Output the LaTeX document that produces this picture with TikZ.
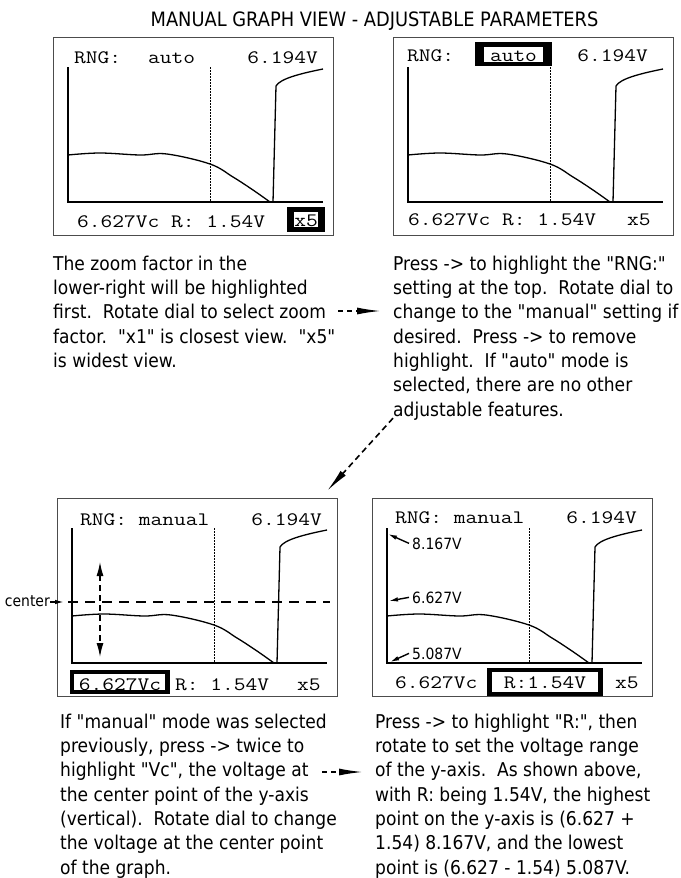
\documentclass[tikz,border=0pt]{standalone}
\usepackage{fontspec}
\setmainfont{DejaVu Sans}[FakeStretch=0.9,Ligatures=TeXOff]
\newfontfamily\lcd{lmmono12-regular}[Extension=.otf,FakeStretch=1.2]
\usetikzlibrary{arrows.meta}
\tikzset{
 frame/.style={draw=black!70, line width=1.4pt, minimum width=280pt, minimum height=198pt, anchor=north west, inner sep=0},
 axis/.style={line width=1.5pt},
 trace/.style={line width=1.3pt},
 vdot/.style={line width=1pt, dash pattern=on 1.5pt off 1.5pt},
 lcdtxt/.style={font=\lcd\fontsize{19}{19}\selectfont, inner sep=0, anchor=base west},
 caption/.style={font=\fontsize{19}{24.3}\selectfont, align=left, anchor=north west, inner sep=0},
 flow/.style={line width=1.6pt, dash pattern=on 5pt off 4pt, -{Latex[length=24pt,width=7pt]}},
 lbl/.style={font=\fontsize{15.5}{16}\selectfont, inner sep=0, anchor=base west},
 small/.style={line width=1.4pt, -{Latex[length=9pt,width=4.5pt]}},
}
\newcommand\screen[3]{%
 \begin{scope}[shift={(#2,#3)}]
  \node[frame] (#1) at (0,0) {};
  \draw[vdot] (157,30) -- (157,165);
  \draw[axis] (15,30) -- (15,165) -- (270,165);
  \draw[trace] plot[smooth,tension=0.6] coordinates {(15,118) (47,116) (87,118) (114,117) (157,127) (180,140) (200,153) (217,165)} -- (220,165) -- (223,49) .. controls (227,42) and (245,37) .. (270,32);
 \end{scope}}
\begin{document}
\begin{tikzpicture}[x=1pt,y=-1pt]
\useasboundingbox[fill=white] (0,0) rectangle (680,878);
\node[font=\fontsize{19.8}{19.8}\selectfont, anchor=base, inner sep=0] (title) at (374.5,26) {MANUAL GRAPH VIEW - ADJUSTABLE PARAMETERS};

\screen{p1}{53}{37}
\screen{p2}{393}{37}
\screen{p3}{57}{498}
\screen{p4}{372}{498}

% panel 1
\node[lcdtxt] (p1rng) at (74,63) {RNG:};
\node[lcdtxt] (p1auto) at (148,63) {auto};
\node[lcdtxt, anchor=base east] (p1v) at (318,63) {6.194V};
\node[lcdtxt] (p1bot) at (77,227) {6.627Vc R: 1.54V};
\fill (287,207) rectangle (325,232);
\fill[white] (294,212) rectangle (318,227);
\node[lcdtxt, anchor=base] (p1x5) at (306,226) {x5};

% panel 2
\node[lcdtxt] (p2rng) at (407,61) {RNG:};
\fill (475,42) rectangle (552,66);
\fill[white] (484,47) rectangle (543,62);
\node[lcdtxt, anchor=base] (p2auto) at (513.5,61) {auto};
\node[lcdtxt, anchor=base east] (p2v) at (648,61) {6.194V};
\node[lcdtxt] (p2bot) at (408,225) {6.627Vc R: 1.54V};
\node[lcdtxt] (p2x5) at (627,225) {x5};

% panel 3
\node[lcdtxt] (p3rng) at (80,525) {RNG: manual};
\node[lcdtxt, anchor=base east] (p3v) at (322,525) {6.194V};
\fill (70,670) rectangle (170,694);
\fill[white] (74,674) rectangle (165,690);
\node[lcdtxt, anchor=base] (p3vc) at (120,690) {6.627Vc};
\node[lcdtxt] (p3r) at (175,690) {R: 1.54V};
\node[lcdtxt] (p3x5) at (297,690) {x5};
\node[lbl, anchor=base east] (cl) at (50,606) {center};
\coordinate (cc) at (64,602);
\draw[small] (cl.east |- cc) -- (cc);
\draw[line width=1.3pt, dash pattern=on 10pt off 7pt] (68,602) -- (330,602);
\coordinate (ud1) at (100,562);
\coordinate (ud2) at (100,657);
\draw[line width=1.3pt, dash pattern=on 6pt off 4pt, {Latex[length=14pt,width=7pt]}-{Latex[length=14pt,width=7pt]}] (ud1) -- (ud2);

% panel 4
\node[lcdtxt] (p4rng) at (395,523) {RNG: manual};
\node[lcdtxt, anchor=base east] (p4v) at (637,523) {6.194V};
\node[lcdtxt] (p4vc) at (395,688) {6.627Vc};
\fill (487,668) rectangle (603,696);
\fill[white] (492,672) rectangle (598,692);
\node[lcdtxt, anchor=base] (p4r) at (545,688) {R:1.54V};
\node[lcdtxt] (p4x5) at (615,688) {x5};
\node[lbl] (l1) at (412,549) {8.167V};
\node[lbl] (l2) at (412,603) {6.627V};
\node[lbl] (l3) at (412,659) {5.087V};
\coordinate (k1) at (388,534);
\coordinate (k2) at (389,601);
\coordinate (k3) at (390,662);
\draw[small] ([xshift=-3pt]l1.west) -- (k1);
\draw[small] ([xshift=-3pt]l2.west) -- (k2);
\draw[small] ([xshift=-3pt]l3.west) -- (k3);

% captions
\node[caption] (t1) at (53,255.6) {The zoom factor in the\\lower-right will be highlighted\\first.\ \ Rotate dial to select zoom\\factor.\ \ "x1" is closest view.\ \ "x5"\\is widest view.};
\node[caption] (t2) at (393,255.6) {Press -> to highlight the "RNG:"\\setting at the top.\ \ Rotate dial to\\change to the "manual" setting if\\desired.\ \ Press -> to remove\\highlight.\ \ If "auto" mode is\\selected, there are no other\\adjustable features.};
\node[caption] (t3) at (60,713.6) {If "manual" mode was selected\\previously, press -> twice to\\highlight "Vc", the voltage at\\the center point of the y-axis\\(vertical).\ \ Rotate dial to change\\the voltage at the center point\\of the graph.};
\node[caption] (t4) at (375,713.6) {Press -> to highlight "R:", then\\rotate to set the voltage range\\of the y-axis.\ \ As shown above,\\with R: being 1.54V, the highest\\point on the y-axis is (6.627 +\\1.54) 8.167V, and the lowest\\point is (6.627 - 1.54) 5.087V.};

% flow arrows
\coordinate (a1s) at (338,311);
\draw[flow, shorten >=12pt] (a1s) -- (t2.west |- a1s);
\coordinate (a2e) at (327,491);
\draw[flow, dash pattern=on 6pt off 4pt] ([yshift=2pt]t2.south west) -- (a2e);
\coordinate (a3s) at (322,772);
\draw[flow, shorten >=12pt] (a3s) -- (t4.west |- a3s);
\end{tikzpicture}
\end{document}
